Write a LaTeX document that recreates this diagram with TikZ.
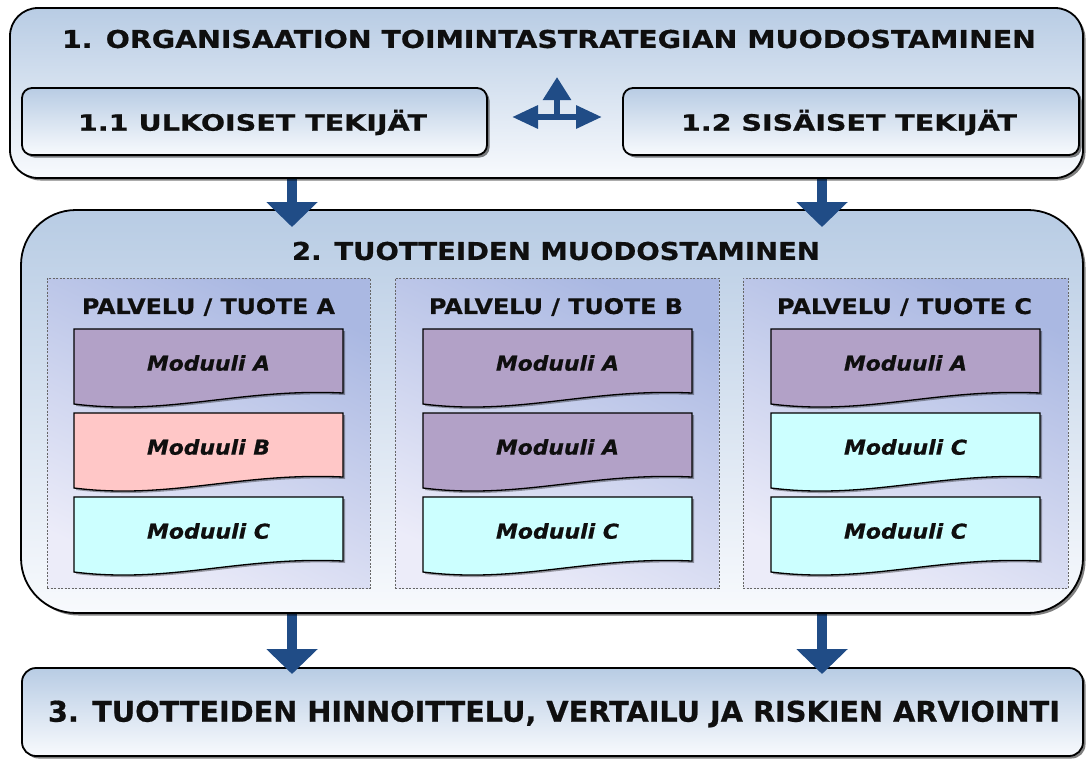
\documentclass[tikz,border=0pt]{standalone}
\usepackage{fontspec}
\setmainfont{DejaVu Sans}[BoldFeatures={FakeBold=0.6},BoldItalicFeatures={FakeBold=0.6}]
\usetikzlibrary{arrows.meta,shadows,calc}
\definecolor{arrowblue}{RGB}{32,76,134}
\definecolor{boxtop}{RGB}{184,204,228}
\definecolor{boxbot}{RGB}{248,250,253}
\definecolor{modA}{RGB}{178,161,199}
\definecolor{modB}{RGB}{255,199,199}
\definecolor{modC}{RGB}{204,255,255}
\definecolor{pantop}{RGB}{170,184,226}
\definecolor{panbot}{RGB}{236,236,249}
\definecolor{txt}{RGB}{15,15,15}
% \fitt{width}{font size}{text}
\newcommand{\fitt}[3]{\resizebox{#1}{\height}{\fontsize{#2}{#2}\selectfont\bfseries #3}}
\newcommand{\fiti}[3]{\resizebox{#1}{\height}{\fontsize{#2}{#2}\selectfont\bfseries\itshape #3}}
\begin{document}
\begin{tikzpicture}[x=1pt,y=-1pt,
  bigbox/.style={draw=black, line width=1.8pt, top color=boxtop, bottom color=boxbot,
    drop shadow={shadow xshift=2.5pt, shadow yshift=-2.5pt, fill=black, opacity=.5},
    inner sep=0pt, outer sep=0pt},
  panel/.style={draw=black!60, line width=0.8pt, dash pattern=on 2pt off 1.5pt,
    top color=pantop, bottom color=panbot, shading angle=-25, inner sep=0pt, outer sep=0pt},
  modshape/.style={draw=black, line width=1.3pt,
    drop shadow={shadow xshift=2pt, shadow yshift=-2pt, fill=black, opacity=.35}},
  lbl/.style={text=txt, inner sep=0pt},
  flowarrow/.style={draw=arrowblue, line width=10pt, -{Triangle[width=50pt,length=25pt]}},
  iconarrow/.style={draw=arrowblue, line width=6pt}
]
\useasboundingbox (0,0) rectangle (1086,758);
\fill[white] (0,0) rectangle (1086,758);

% module macro: name, x, y, colour, text
\newcommand{\modbox}[5]{%
  \begin{scope}[shift={(#2,#3)}]
    \path[modshape, fill=#4] (0,0) -- (269,0) -- (269,64)
      .. controls (166,59) and (96,87) .. (0,75) -- cycle;
    \node[lbl] (#1) at (134.5,34) {\fiti{123pt}{20.5pt}{#5}};
  \end{scope}}

% box 3
\node[bigbox, rounded corners=14pt, minimum width=1061pt, minimum height=88pt] (b3) at (552.5,712) {};
\node[lbl] (t3) at (554,714) {\fitt{1012pt}{28.5pt}{3. TUOTTEIDEN HINNOITTELU, VERTAILU JA RISKIEN ARVIOINTI}};

% coordinates of arrow columns
\coordinate (ax1) at (292,0);
\coordinate (ax2) at (822,0);

% box 2 (position first), arrows to box 3 drawn beneath it
\path (552,411.5) node[minimum width=1062pt, minimum height=403pt, inner sep=0pt, outer sep=0pt] (b2pos) {};
\draw[flowarrow, shorten >=-6pt] (b2pos.south -| ax1) -- (b3.north -| ax1);
\draw[flowarrow, shorten >=-6pt] (b2pos.south -| ax2) -- (b3.north -| ax2);

\node[bigbox, rounded corners=55pt, minimum width=1062pt, minimum height=403pt] (b2) at (552,411.5) {};
\node[lbl] (t2) at (556,251) {\fitt{528pt}{24.5pt}{2. TUOTTEIDEN MUODOSTAMINEN}};

% panels
\node[panel, minimum width=323pt, minimum height=310pt] (pA) at (208.5,433) {};
\node[panel, minimum width=324pt, minimum height=310pt] (pB) at (557,433) {};
\node[panel, minimum width=325pt, minimum height=310pt] (pC) at (905.5,433) {};
\node[lbl] (tA) at (208.5,307) {\fitt{253pt}{21.5pt}{PALVELU / TUOTE A}};
\node[lbl] (tB) at (556,307) {\fitt{254pt}{21.5pt}{PALVELU / TUOTE B}};
\node[lbl] (tC) at (904.5,307) {\fitt{255pt}{21.5pt}{PALVELU / TUOTE C}};

% modules
\modbox{mA1}{74}{329}{modA}{Moduuli A}
\modbox{mA2}{74}{413}{modB}{Moduuli B}
\modbox{mA3}{74}{497}{modC}{Moduuli C}
\modbox{mB1}{423}{329}{modA}{Moduuli A}
\modbox{mB2}{423}{413}{modA}{Moduuli A}
\modbox{mB3}{423}{497}{modC}{Moduuli C}
\modbox{mC1}{771}{329}{modA}{Moduuli A}
\modbox{mC2}{771}{413}{modC}{Moduuli C}
\modbox{mC3}{771}{497}{modC}{Moduuli C}

% box 1 position, arrows into box 2, then box 1 on top
\path (546.5,93) node[minimum width=1073pt, minimum height=170pt, inner sep=0pt, outer sep=0pt] (b1pos) {};
\draw[flowarrow, shorten >=-17pt] (b1pos.south -| ax1) -- (b2.north -| ax1);
\draw[flowarrow, shorten >=-17pt] (b1pos.south -| ax2) -- (b2.north -| ax2);

\node[bigbox, rounded corners=28pt, minimum width=1073pt, minimum height=170pt] (b1) at (546.5,93) {};
\node[lbl] (t1) at (549,39) {\fitt{974pt}{24.5pt}{1. ORGANISAATION TOIMINTASTRATEGIAN MUODOSTAMINEN}};

\node[bigbox, rounded corners=10pt, minimum width=465pt, minimum height=67pt] (b11) at (254.5,121.5) {};
\node[lbl] (t11) at (252.5,122.5) {\fitt{349pt}{22.5pt}{1.1 ULKOISET TEKIJÄT}};
\node[bigbox, rounded corners=10pt, minimum width=456pt, minimum height=67pt] (b12) at (851,121.5) {};
\node[lbl] (t12) at (849,122.5) {\fitt{336pt}{22.5pt}{1.2 SISÄISET TEKIJÄT}};

% icon arrows between 1.1 and 1.2
\coordinate (ic) at (557,117);
\draw[iconarrow, {Triangle[width=22pt,length=26pt]}-{Triangle[width=22pt,length=26pt]}]
  (b11.east |- ic) -- (b12.west |- ic) [shorten <=25pt, shorten >=21pt];
\draw[iconarrow, -{Triangle[width=27pt,length=23pt]}] (ic) -- ++(0,-40);
\end{tikzpicture}
\end{document}
